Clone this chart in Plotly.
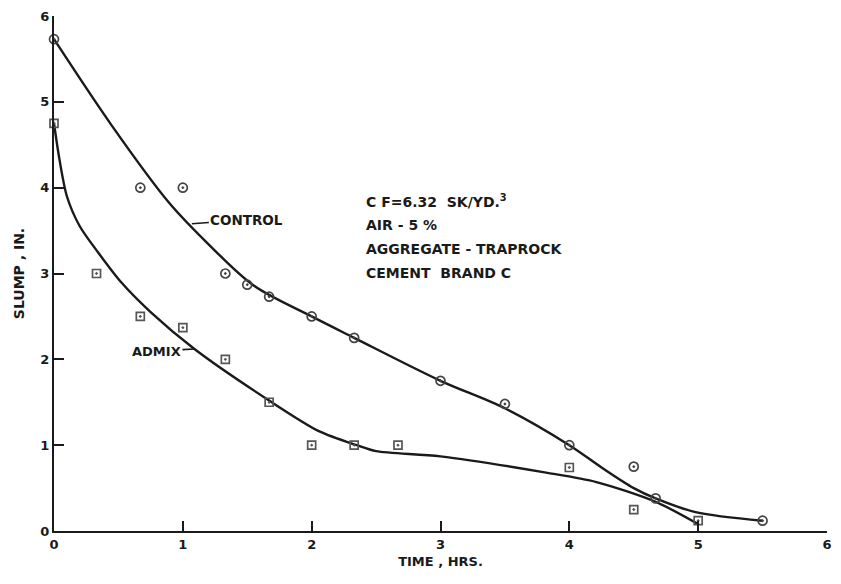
import plotly.graph_objects as go

# Measured points
control_t = [0, 0.67, 1.0, 1.33, 1.5, 1.67, 2.0, 2.33, 3.0, 3.5, 4.0, 4.5, 4.67, 5.5]
control_s = [5.73, 4.0, 4.0, 3.0, 2.87, 2.73, 2.5, 2.25, 1.75, 1.48, 1.0, 0.75, 0.38, 0.12]
admix_t = [0, 0.33, 0.67, 1.0, 1.33, 1.67, 2.0, 2.33, 2.67, 4.0, 4.5, 5.0]
admix_s = [4.75, 3.0, 2.5, 2.37, 2.0, 1.5, 1.0, 1.0, 1.0, 0.74, 0.25, 0.12]

# Hand-drawn fitted curves
control_curve_t = [0, 0.45, 0.89, 1.2, 1.55, 2.0, 2.33, 3.0, 3.5, 4.0, 4.25, 4.5, 4.67, 4.98, 5.5]
control_curve_s = [5.73, 4.72, 3.83, 3.34, 2.86, 2.5, 2.25, 1.75, 1.43, 1.0, 0.74, 0.5, 0.38, 0.22, 0.12]
admix_curve_t = [0, 0.04, 0.1, 0.2, 0.34, 0.52, 0.75, 1.09, 1.67, 2.06, 2.35, 2.5, 3.0, 3.82, 4.21, 4.67, 5.0]
admix_curve_s = [4.75, 4.35, 3.9, 3.55, 3.25, 2.9, 2.55, 2.12, 1.52, 1.16, 1.0, 0.93, 0.87, 0.68, 0.57, 0.34, 0.08]

info_lines = ["C F=6.32  SK/YD.<sup>3</sup>", "AIR - 5 %", "AGGREGATE - TRAPROCK", "CEMENT  BRAND C"]
info_y = [3.84, 3.57, 3.29, 3.01]

ticks = [0, 1, 2, 3, 4, 5, 6]
INK = "#1a1a1a"
FONT = "DejaVu Sans"

fig = go.Figure()
fig.add_trace(go.Scatter(x=control_curve_t, y=control_curve_s, mode="lines",
                         line=dict(color=INK, width=2.4, shape="spline", smoothing=0.9),
                         cliponaxis=False, hoverinfo="skip"))
fig.add_trace(go.Scatter(x=admix_curve_t, y=admix_curve_s, mode="lines",
                         line=dict(color=INK, width=2.4, shape="spline", smoothing=0.8),
                         cliponaxis=False, hoverinfo="skip"))
fig.add_trace(go.Scatter(x=control_t, y=control_s, mode="markers", cliponaxis=False,
                         marker=dict(symbol="circle-open-dot", size=9, color="#444",
                                     line=dict(width=1.7, color="#444"))))
fig.add_trace(go.Scatter(x=admix_t, y=admix_s, mode="markers", cliponaxis=False,
                         marker=dict(symbol="square-open-dot", size=8, color="#555",
                                     line=dict(width=1.7, color="#555"))))

for txt, yy in zip(info_lines, info_y):
    fig.add_annotation(x=2.41, y=yy, text=txt, showarrow=False, xanchor="left", yanchor="middle",
                       font=dict(family=FONT, size=14, color=INK, weight="bold"))

fig.add_annotation(x=1.07, y=3.58, text="CONTROL", showarrow=True, arrowhead=0, arrowwidth=1.6,
                   arrowcolor=INK, ax=55, ay=-4,
                   font=dict(family=FONT, size=13.5, color=INK, weight="bold"))
fig.add_annotation(x=1.09, y=2.12, text="ADMIX", showarrow=True, arrowhead=0, arrowwidth=1.6,
                   arrowcolor=INK, ax=-38, ay=2,
                   font=dict(family=FONT, size=13, color=INK, weight="bold"))

axis_common = dict(range=[0, 6], tickvals=ticks, ticktext=[str(t) for t in ticks],
                   showgrid=False, zeroline=False, showline=True, linecolor=INK, linewidth=2,
                   ticks="inside", ticklen=10, tickwidth=1.6, tickcolor=INK,
                   tickfont=dict(family=FONT, size=13, color=INK, weight="bold"))
fig.update_xaxes(**axis_common,
                 title=dict(text="TIME , HRS.", font=dict(family=FONT, size=13, color=INK, weight="bold"),
                            standoff=6))
fig.update_yaxes(**axis_common,
                 title=dict(text="SLUMP , IN.", font=dict(family=FONT, size=14, color=INK, weight="bold"),
                            standoff=12))

fig.update_layout(width=841, height=584, showlegend=False,
                  margin=dict(l=54, r=9, t=12, b=53),
                  paper_bgcolor="white", plot_bgcolor="white")

fig.write_html("out.html")
